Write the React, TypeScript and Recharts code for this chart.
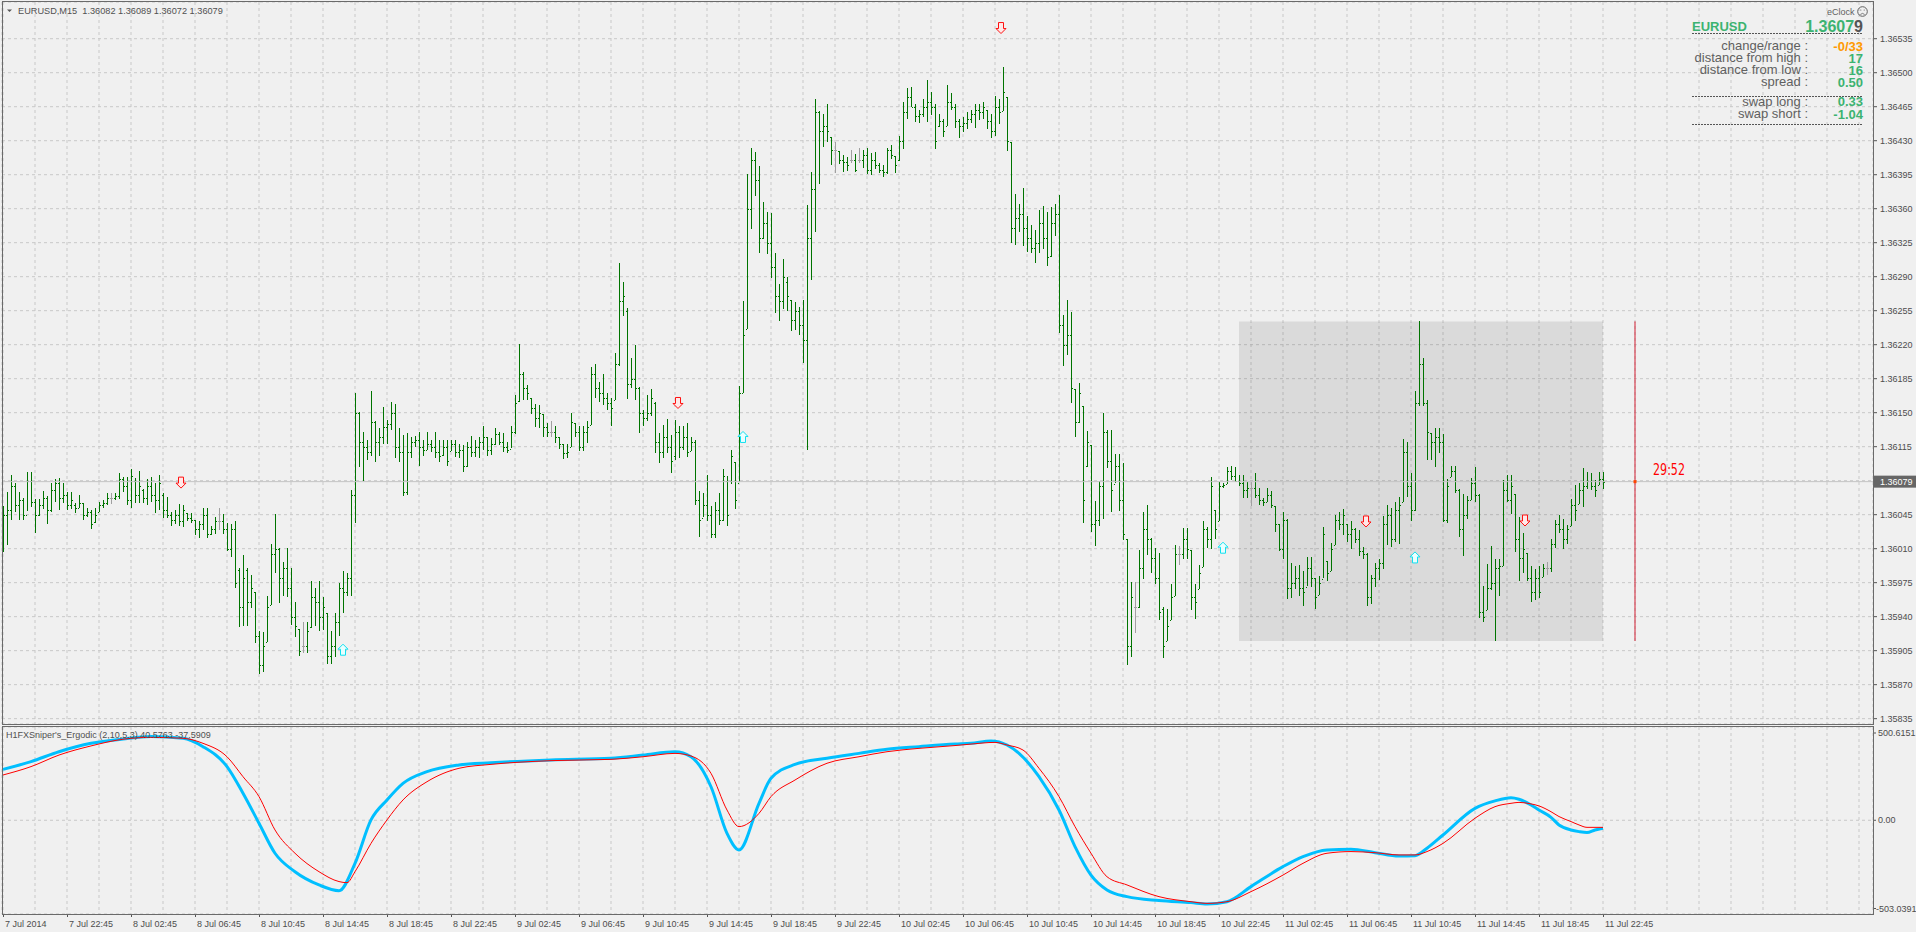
import React from "react";
import {
  ComposedChart,
  Bar,
  Line,
  Scatter,
  XAxis,
  YAxis,
  CartesianGrid,
  ReferenceLine,
  ReferenceArea,
  ReferenceDot,
} from "recharts";

// EURUSD M15, first bar 7 Jul 18:45. Prices in points above 1.36000 (1 pt = 0.00001)
// each bar: [high, low, open, close]
type Ohlc = [number, number, number, number];

const jul7: Ohlc[] = [
  [54, 7, 12, 45], [68, 13, 45, 50], [86, 40, 50, 75], [78, 48, 75, 55], [68, 39, 55, 60], [62, 39, 60, 45], [89, 49, 45, 80], [89, 53, 80, 58],
  [61, 26, 58, 45], [61, 43, 45, 55], [69, 50, 55, 62], [64, 35, 62, 50], [78, 48, 50, 70], [82, 58, 70, 78], [83, 50, 78, 62], [78, 57, 62, 65],
  [68, 49, 65, 55], [68, 50, 55, 60], [57, 47, 55, 52], [65, 52, 52, 57], [57, 39, 57, 45],
];

const jul8: Ohlc[] = [
  [52, 43, 45, 48], [50, 30, 48, 35], [52, 37, 37, 45], [58, 48, 48, 55], [60, 52, 55, 57], [67, 55, 57, 62], [67, 56, 62, 62], [67, 60, 62, 64],
  [88, 61, 64, 82], [84, 69, 82, 75], [84, 55, 75, 60], [92, 52, 60, 85], [83, 57, 80, 65], [90, 57, 65, 75], [71, 57, 70, 62], [82, 55, 62, 75],
  [84, 58, 75, 65], [78, 47, 65, 60], [86, 50, 60, 78], [67, 41, 65, 50], [63, 41, 50, 45], [48, 34, 45, 40], [50, 36, 40, 45], [56, 33, 45, 38],
  [55, 32, 38, 50], [47, 39, 47, 42], [47, 37, 42, 40], [40, 25, 40, 30], [39, 21, 30, 35], [52, 29, 35, 45], [52, 21, 45, 25], [33, 24, 25, 30],
  [43, 26, 30, 38], [52, 29, 38, 38], [46, 25, 38, 30], [36, 7, 30, 10], [35, 1, 10, 30], [38, -31, 30, -25], [-10, -71, -12, -50], [3, -70, -50, -20],
  [-10, -70, -12, -45], [-17, -51, -45, -30], [-35, -87, -35, -80], [-75, -119, -80, -110], [-76, -117, -110, -90], [-39, -86, -86, -50], [15, -48, -48, 5], [46, -15, 5, 10],
  [11, -46, 10, -20], [-4, -39, -20, -10], [11, -39, -10, -30], [-10, -69, -30, -60], [-45, -81, -60, -70], [-73, -101, -73, -95], [-66, -98, -90, -90], [-66, -98, -90, -75],
  [-23, -71, -71, -40], [-30, -69, -40, -45], [-23, -74, -45, -60], [-40, -74, -60, -50], [-56, -109, -56, -100], [-75, -109, -100, -90], [-56, -101, -90, -65], [-25, -80, -65, -30],
  [-13, -56, -30, -35], [-15, -39, -35, -20], [70, -39, -20, 65], [170, 36, 65, 150], [151, 94, 150, 120], [130, 80, 120, 115], [122, 101, 115, 110], [172, 105, 110, 140],
  [141, 99, 140, 120], [134, 105, 120, 125], [156, 118, 125, 135], [142, 117, 135, 138], [161, 132, 138, 150], [159, 103, 150, 115], [134, 99, 115, 110], [127, 64, 110, 68],
  [129, 65, 68, 110], [125, 103, 110, 120], [126, 115, 120, 122], [130, 95, 122, 115], [122, 106, 115, 112], [130, 111, 112, 118], [122, 110, 118, 115], [130, 103, 115, 110],
  [122, 99, 110, 105], [122, 106, 106, 115], [122, 95, 115, 100], [122, 111, 111, 118], [122, 105, 118, 110], [118, 104, 110, 112], [117, 89, 112, 95], [120, 94, 95, 115],
];

const jul9: Ohlc[] = [
  [126, 104, 115, 110], [122, 104, 110, 115], [125, 103, 115, 120], [136, 111, 120, 125], [125, 105, 125, 112], [124, 106, 112, 118], [134, 117, 118, 128], [130, 117, 128, 120],
  [129, 109, 120, 115], [120, 109, 115, 112], [136, 113, 113, 130], [168, 128, 130, 160], [221, 161, 162, 190], [192, 163, 190, 175], [178, 163, 175, 170], [165, 149, 165, 155],
  [159, 135, 155, 145], [158, 134, 145, 150], [149, 125, 149, 135], [139, 125, 135, 130], [141, 125, 130, 130], [136, 118, 130, 125], [125, 113, 125, 118], [118, 103, 118, 108],
  [118, 104, 108, 110], [150, 115, 115, 140], [139, 125, 139, 130], [136, 110, 130, 115], [136, 110, 115, 130], [141, 118, 130, 135], [197, 137, 137, 190], [200, 165, 190, 175],
  [182, 161, 175, 170], [190, 158, 170, 165], [170, 153, 165, 160], [165, 136, 160, 155], [211, 163, 163, 200], [304, 198, 200, 265], [285, 250, 265, 270], [258, 164, 255, 180],
  [206, 175, 180, 185], [220, 163, 185, 175], [176, 129, 175, 150], [153, 137, 150, 145], [168, 141, 145, 150], [174, 146, 150, 165], [161, 109, 160, 120], [129, 98, 120, 110],
  [137, 103, 110, 125], [144, 109, 125, 115], [127, 88, 115, 100], [142, 101, 105, 130], [136, 103, 130, 115], [136, 111, 115, 125], [139, 104, 125, 110], [125, 111, 111, 120],
  [122, 55, 120, 60], [69, 22, 60, 40], [67, 42, 42, 55], [86, 39, 55, 45], [54, 21, 45, 25], [58, 21, 25, 50], [67, 34, 50, 40], [92, 38, 40, 85],
  [85, 34, 80, 45], [112, 77, 80, 105], [99, 51, 99, 60], [177, 78, 78, 170], [265, 170, 170, 230], [396, 236, 236, 360], [423, 340, 360, 410], [418, 373, 410, 390],
  [404, 314, 390, 330], [367, 329, 330, 345], [357, 314, 345, 325], [356, 289, 325, 300], [314, 252, 300, 270], [282, 244, 270, 265], [308, 257, 265, 290], [290, 255, 285, 270],
  [266, 234, 266, 245], [264, 235, 245, 255], [259, 230, 255, 240], [266, 201, 240, 225], [364, 112, 225, 330], [398, 287, 330, 380], [473, 336, 380, 460], [461, 386, 460, 440],
  [458, 424, 440, 445], [468, 429, 445, 440], [434, 405, 434, 420], [429, 397, 420, 420], [419, 406, 419, 410], [415, 397, 410, 408], [413, 399, 408, 405], [420, 407, 410, 410],
];

const jul10: Ohlc[] = [
  [416, 397, 410, 400], [422, 407, 410, 410], [420, 401, 410, 415], [422, 395, 415, 400], [417, 394, 400, 410], [418, 400, 410, 405], [407, 397, 405, 400], [405, 393, 400, 398],
  [422, 395, 398, 420], [426, 412, 420, 415], [414, 397, 414, 405], [435, 409, 410, 430], [470, 422, 430, 460], [484, 452, 460, 475], [485, 464, 475, 465], [468, 449, 465, 455],
  [462, 449, 455, 458], [473, 454, 458, 465], [492, 449, 465, 470], [480, 456, 470, 465], [468, 422, 465, 430], [458, 445, 445, 450], [452, 433, 450, 440], [487, 445, 445, 470],
  [479, 462, 470, 465], [468, 443, 465, 450], [452, 432, 450, 445], [454, 439, 445, 448], [460, 443, 448, 452], [462, 449, 452, 458], [468, 443, 458, 462], [468, 452, 462, 460],
  [470, 453, 460, 465], [462, 442, 462, 450], [458, 433, 450, 440], [476, 435, 440, 465], [473, 447, 465, 460], [506, 461, 461, 480], [475, 419, 475, 430], [429, 325, 429, 340],
  [375, 323, 340, 350], [365, 336, 350, 355], [381, 321, 355, 340], [353, 316, 340, 330], [343, 314, 330, 320], [338, 304, 320, 325], [359, 315, 325, 345], [363, 319, 345, 330],
  [357, 301, 330, 310], [362, 311, 311, 345], [365, 332, 345, 355], [374, 232, 355, 240], [251, 199, 240, 220], [266, 209, 220, 230], [254, 160, 230, 175], [174, 125, 174, 140],
  [181, 140, 140, 170], [157, 37, 157, 60], [131, 94, 95, 120], [117, 27, 117, 35], [59, 13, 35, 40], [80, 34, 40, 75], [150, 41, 75, 130], [132, 93, 130, 100],
  [132, 48, 100, 70], [107, 77, 77, 95], [107, 48, 95, 60], [98, 19, 60, 25], [20, -110, 20, -90], [-24, -101, -90, -40], [-24, -76, -50, -50], [9, -51, -50, -10],
  [48, -21, -10, 30], [55, 4, 30, 20], [21, -15, 20, 0], [11, -26, 0, -20], [6, -63, -20, -55], [-50, -102, -52, -90], [-52, -85, -85, -70], [-26, -63, -63, -40],
  [14, -39, -39, 5], [13, -7, 5, 5], [31, -1, 5, 20], [31, -1, 20, 10], [9, -53, 9, -40], [-26, -62, -40, -45], [-7, -32, -32, -15], [38, -9, -9, 30],
  [32, 10, 30, 20], [84, 10, 20, 75], [50, 20, 50, 30], [79, 39, 39, 75], [78, 73, 75, 76], [94, 77, 77, 90], [95, 81, 90, 85], [94, 79, 85, 80],
];

const jul11: Ohlc[] = [
  [86, 75, 80, 78], [86, 62, 78, 70], [79, 63, 70, 72], [79, 54, 72, 72], [88, 62, 72, 65], [72, 54, 65, 60], [62, 54, 60, 58], [72, 58, 58, 65],
  [69, 51, 65, 55], [54, 27, 54, 35], [35, 7, 35, 10], [48, 0, 10, 40], [41, -41, 40, -30], [-5, -41, -30, -25], [-8, -32, -25, -20], [-7, -39, -20, -30],
  [-13, -49, -30, -35], [1, -29, -29, -10], [1, -30, -10, -20], [-20, -52, -20, -40], [-18, -38, -38, -25], [32, -21, -21, 25], [-3, -24, -3, -15], [16, -13, -13, 10],
  [45, 14, 14, 40], [48, 29, 40, 35], [51, 24, 35, 45], [35, 16, 35, 25], [39, 10, 25, 30], [31, 16, 30, 20], [29, 2, 20, 8], [12, 0, 8, 5],
  [6, -49, 5, -40], [-17, -47, -40, -20], [-5, -30, -20, -10], [-1, -23, -10, -5], [44, -11, -5, 35], [55, 14, 35, 45], [52, 12, 45, 20], [58, 17, 20, 50],
  [63, 15, 50, 55], [123, 58, 58, 110], [120, 63, 110, 75], [88, 39, 75, 50], [172, 48, 50, 160], [244, 157, 160, 200], [206, 157, 200, 160], [163, 101, 160, 130],
  [129, 101, 129, 120], [134, 94, 120, 125], [134, 108, 125, 120], [128, 37, 120, 40], [82, 37, 40, 75], [95, 84, 84, 90], [95, 67, 90, 70], [71, 22, 70, 30],
  [66, 2, 30, 45], [64, 40, 45, 60], [83, 60, 60, 78], [94, 58, 78, 65], [66, -62, 65, -55], [-28, -65, -55, -60], [-6, -53, -53, -30], [13, -32, -30, -25],
  [-1, -85, -25, -10], [-1, -39, -10, -8], [81, -8, -8, 70], [86, 58, 70, 60], [86, 46, 60, 75], [66, 6, 66, 20], [43, -23, 20, 0], [26, -15, 0, 10],
  [6, -23, 6, -20], [-8, -45, -20, -35], [-11, -43, -35, -20], [-8, -41, -20, -35], [-6, -19, -19, -10], [-4, -17, -10, -10], [20, -14, -10, 15], [40, 11, 15, 35],
  [45, 26, 35, 30], [41, 10, 30, 20], [34, 14, 20, 30], [61, 33, 33, 55], [76, 39, 55, 50], [78, 56, 56, 70], [93, 53, 70, 75], [89, 72, 75, 80],
  [88, 71, 80, 75], [81, 64, 75, 70], [89, 76, 76, 82], [89, 72, 82, 79],
];

// signal arrows: [bar index, price pts]
const sellArrows: [number, number][] = [[44.5, 78], [168.75, 160], [249.5, 546], [340.75, 38], [380.5, 39]];
const buyArrows: [number, number][] = [[85, -94], [185, 125], [305, 11], [353, 1]];

// H1FXSniper's Ergodic, [bar index, value]
const ergoFast: [number, number][] = [
  [0, 273], [7, 315], [14, 368], [22, 413], [30, 436], [37, 449], [45, 440], [50, 395], [56, 288], [60, 145],
  [64, -16], [68, -177], [73, -276], [79, -347], [84, -378], [88, -231], [92, 2], [96, 109], [100, 198], [106, 261],
  [114, 297], [122, 309], [137, 324], [152, 333], [160, 350], [168, 368], [172, 341], [177, 180], [181, -70], [184, -159],
  [189, 91], [192, 225], [198, 300], [206, 333], [214, 359], [221, 381], [229, 395], [238, 409], [242, 413], [247, 426],
  [251, 404], [254, 359], [259, 234], [264, 55], [268, -141], [272, -294], [276, -374], [281, -410], [289, -431], [297, -442],
  [301, -449], [306, -437], [312, -356], [320, -249], [325, -195], [331, -159], [337, -156], [343, -174], [349, -192], [353, -190],
  [356, -150], [360, -79], [368, 64], [373, 104], [377, 121], [379, 113], [382, 82], [384, 55], [387, 16], [389, -25],
  [392, -52], [394, -61], [396, -66], [398, -52], [400, -43],
];
const ergoSlow: [number, number][] = [
  [0, 243], [7, 288], [14, 350], [22, 399], [30, 435], [37, 445], [45, 440], [50, 413], [56, 341], [60, 234],
  [64, 127], [68, -52], [73, -177], [79, -276], [84, -329], [86, -335], [88, -276], [92, -124], [96, 2], [100, 109],
  [106, 207], [114, 279], [122, 300], [137, 320], [152, 327], [160, 341], [168, 359], [172, 345], [177, 252], [181, 55],
  [184, -34], [189, 37], [192, 127], [198, 216], [206, 306], [214, 341], [221, 368], [229, 386], [238, 401], [242, 409],
  [248, 418], [251, 404], [255, 377], [259, 279], [264, 127], [268, -34], [272, -177], [276, -303], [281, -347], [289, -410],
  [297, -437], [301, -446], [306, -437], [312, -383], [320, -294], [325, -231], [331, -177], [337, -168], [343, -174], [349, -186],
  [353, -186], [356, -168], [360, -124], [368, 11], [373, 73], [377, 91], [379, 96], [382, 88], [384, 77], [387, 46],
  [389, 20], [392, -7], [394, -25], [396, -38], [400, -38],
];

const timeLabels = [
  "7 Jul 2014", "7 Jul 22:45", "8 Jul 02:45", "8 Jul 06:45", "8 Jul 10:45", "8 Jul 14:45", "8 Jul 18:45",
  "8 Jul 22:45", "9 Jul 02:45", "9 Jul 06:45", "9 Jul 10:45", "9 Jul 14:45", "9 Jul 18:45", "9 Jul 22:45",
  "10 Jul 02:45", "10 Jul 06:45", "10 Jul 10:45", "10 Jul 14:45", "10 Jul 18:45", "10 Jul 22:45",
  "11 Jul 02:45", "11 Jul 06:45", "11 Jul 10:45", "11 Jul 14:45", "11 Jul 18:45", "11 Jul 22:45",
];
const priceTicks = [535, 500, 465, 430, 395, 360, 325, 290, 255, 220, 185, 150, 115, 80, 45, 10, -25, -60, -95, -130, -165];
const ergoTicks = [500.6151, 0, -503.0391];
const ergoTickLabels = ["500.6151", "0.00", "-503.0391"];

const infoLabels = ["change/range :", "distance from high :", "distance from low :", "spread :"];
const infoValues = ["-0/33", "17", "16", "0.50"];
const swapLabels = ["swap long :", "swap short :"];
const swapValues = ["0.33", "-1.04"];

const dayBox = { from: 309, to: 400, low: -85, high: 244 };
const lastClose = 79;
const timerBar = 408;

const FONT = "'Liberation Sans', Arial, sans-serif";
const X_DOMAIN: [number, number] = [-0.25, 467.5];
const gridTicks = Array.from({ length: 59 }, (_, k) => k * 8);
const AXIS_X = 1873;
const GREEN = "#3CB371";

const bars = [...jul7, ...jul8, ...jul9, ...jul10, ...jul11].map(([h, l, o, c], i) => ({
  i, range: [l, h], h, l, o, c,
}));
const sellData = sellArrows.map(([i, p]) => ({ i, p }));
const buyData = buyArrows.map(([i, p]) => ({ i, p }));
const fastData = ergoFast.map(([i, v]) => ({ i, v }));
const slowData = ergoSlow.map(([i, v]) => ({ i, v }));

const fmtPrice = (p: number) => (1.36 + p / 100000).toFixed(5);

function OhlcShape(props: any) {
  const { x, y, width, height, payload } = props;
  if (x == null || y == null || !payload) return null;
  const cx = Math.round(x + width / 2);
  const top = Math.min(y, y + height);
  const len = Math.abs(height);
  const span = payload.h - payload.l;
  const yOf = (v: number) => top + (span === 0 ? 0 : ((payload.h - v) / span) * len);
  const color = payload.o === payload.c ? "#A0A0A0" : "#007400";
  return (
    <g shapeRendering="crispEdges">
      <rect x={cx} y={Math.round(top)} width={1} height={Math.max(1, Math.round(len))} fill={color} />
      <rect x={cx - 1} y={Math.round(yOf(payload.o))} width={1} height={1} fill={color} />
      <rect x={cx + 1} y={Math.round(yOf(payload.c))} width={1} height={1} fill={color} />
    </g>
  );
}

function SellArrow(props: any) {
  const { cx, cy } = props;
  if (cx == null) return null;
  const d = `M${cx - 2.5},${cy - 5.5} h5 v6 h2.5 l-5,5 l-5,-5 h2.5 z`;
  return <path d={d} fill="#FFE8E8" stroke="#FF1010" strokeWidth={1} />;
}

function BuyArrow(props: any) {
  const { cx, cy } = props;
  if (cx == null) return null;
  const d = `M${cx - 2.5},${cy + 5.5} h5 v-6 h2.5 l-5,-5 l-5,5 h2.5 z`;
  return <path d={d} fill="#E8FFFF" stroke="#10E0F0" strokeWidth={1} />;
}

function PriceTick(props: any) {
  const { y, payload } = props;
  if (payload.value === 80) return <g />;
  return (
    <g>
      <line x1={AXIS_X} x2={AXIS_X + 4} y1={y} y2={y} stroke="#555" />
      <text x={AXIS_X + 7} y={y} dy="0.35em" fontSize={9} fontFamily={FONT} fill="#4D4D4D">
        {fmtPrice(payload.value)}
      </text>
    </g>
  );
}

function PriceTag(props: any) {
  const vb = props.viewBox || {};
  const y = vb.y ?? 0;
  return (
    <g>
      <rect x={AXIS_X + 1} y={y - 6} width={43} height={12} fill="#666666" />
      <text x={AXIS_X + 7} y={y} dy="0.35em" fontSize={9} fontFamily={FONT} fill="#FFFFFF">
        {fmtPrice(lastClose)}
      </text>
    </g>
  );
}

function ErgoTick(props: any) {
  const { y, payload } = props;
  const k = ergoTicks.indexOf(payload.value);
  const dy = k === 0 ? 6 : k === 2 ? -5.5 : 0;
  return (
    <g>
      <line x1={AXIS_X} x2={AXIS_X + 3} y1={y + dy} y2={y + dy} stroke="#555" />
      <text x={k === 2 ? AXIS_X + 3 : AXIS_X + 5} y={y + dy} dy="0.35em" fontSize={9} fontFamily={FONT} fill="#4D4D4D">
        {ergoTickLabels[k]}
      </text>
    </g>
  );
}

function TimeTick(props: any) {
  const { x, payload } = props;
  const v = payload.value;
  if (v % 16 !== 0 || v > 400) return <g />;
  return (
    <g>
      <line x1={x + 0.5} x2={x + 0.5} y1={189} y2={192} stroke="#555" />
      <text x={x + 2} y={202} fontSize={9} fontFamily={FONT} fill="#4D4D4D">
        {timeLabels[v / 16]}
      </text>
    </g>
  );
}

function TimerDot(props: any) {
  const { cx, cy } = props;
  return <rect x={cx - 1.5} y={cy - 1.5} width={3} height={3} fill="#FF4500" />;
}

function TimerText(props: any) {
  const { cx, cy } = props;
  return (
    <text x={cx} y={cy} fontSize={15} fill="#FF0000" textLength={32} lengthAdjust="spacingAndGlyphs"
      fontFamily="'Liberation Sans Narrow', 'Arial Narrow', 'DejaVu Sans Condensed', sans-serif">
      29:52
    </text>
  );
}

export default function App() {
  return (
    <div style={{ position: "absolute", left: 0, top: 0, width: 1916, height: 932, background: "#F0F0F0", overflow: "hidden", fontFamily: FONT }}>
      <div style={{ position: "absolute", left: 0, top: 0 }}>
        <ComposedChart width={1916} height={726} data={bars} margin={{ top: 2, right: 0, bottom: 2, left: 2 }}>
          <CartesianGrid stroke="#C8C8C8" strokeDasharray="3 3" />
          <XAxis type="number" dataKey="i" domain={X_DOMAIN} ticks={gridTicks} interval={0} allowDataOverflow hide />
          <YAxis type="number" orientation="right" width={43} domain={[-170.5, 572.8]} ticks={priceTicks} interval={0}
            allowDataOverflow tick={PriceTick} tickLine={false} axisLine={false} />
          <ReferenceArea x1={dayBox.from} x2={dayBox.to} y1={dayBox.low} y2={dayBox.high} fill="#000000" fillOpacity={0.09} stroke="none" />
          <ReferenceLine y={lastClose} stroke="#C4C4C4" label={<PriceTag />} />
          <Bar dataKey="range" shape={OhlcShape} barSize={1} isAnimationActive={false} />
          <Scatter data={sellData} dataKey="p" shape={SellArrow} isAnimationActive={false} />
          <Scatter data={buyData} dataKey="p" shape={BuyArrow} isAnimationActive={false} />
          <ReferenceLine segment={[{ x: timerBar, y: dayBox.low }, { x: timerBar, y: dayBox.high }]} stroke="#D21E32" />
          <ReferenceDot x={timerBar} y={lastClose} r={2} shape={TimerDot} />
          <ReferenceDot x={412.5} y={86} r={1} shape={TimerText} />
        </ComposedChart>
      </div>

      <div style={{ position: "absolute", left: 0, top: 725 }}>
        <ComposedChart width={1916} height={207} margin={{ top: 2, right: 0, bottom: 0, left: 2 }}>
          <CartesianGrid stroke="#C8C8C8" strokeDasharray="3 3" />
          <XAxis type="number" dataKey="i" domain={X_DOMAIN} ticks={gridTicks} interval={0} allowDataOverflow height={18}
            tick={TimeTick} tickLine={false} axisLine={false} />
          <YAxis type="number" orientation="right" width={43} domain={[-503.0391, 500.6151]} ticks={ergoTicks} interval={0}
            allowDataOverflow tick={ErgoTick} tickLine={false} axisLine={false} />
          <Line data={fastData} dataKey="v" type="monotone" stroke="#00BFFF" strokeWidth={3} dot={false} isAnimationActive={false} />
          <Line data={slowData} dataKey="v" type="monotone" stroke="#FF0000" strokeWidth={1} dot={false} isAnimationActive={false} />
        </ComposedChart>
      </div>

      <svg width={1916} height={932} style={{ position: "absolute", left: 0, top: 0, pointerEvents: "none" }} fontFamily={FONT}>
        {/* panel frames */}
        <rect x={2.5} y={1.5} width={1871} height={723} fill="none" stroke="#6A6A6A" />
        <rect x={2.5} y={726.5} width={1871} height={188} fill="none" stroke="#6A6A6A" />

        {/* header */}
        <path d="M7,9.5 L12,9.5 L9.5,12 Z" fill="#555" />
        <text x={18} y={14} fontSize={9.2} fill="#505050" style={{ whiteSpace: "pre" }}>
          EURUSD,M15  1.36082 1.36089 1.36072 1.36079
        </text>
        <text x={6} y={738} fontSize={9} fill="#505050" style={{ whiteSpace: "pre" }}>
          H1FXSniper's_Ergodic (2,10,5,3) 40.5763 -37.5909
        </text>

        {/* eClock panel */}
        <text x={1827} y={15} fontSize={9} fill="#606060">eClock</text>
        <circle cx={1862.5} cy={11.5} r={4.8} fill="none" stroke="#606060" />
        <circle cx={1860.8} cy={10} r={0.6} fill="#606060" />
        <circle cx={1864.2} cy={10} r={0.6} fill="#606060" />
        <path d="M1860.3,14.5 Q1862.5,12.3 1864.7,14.5" fill="none" stroke="#606060" strokeWidth={0.8} />
        <text x={1692} y={30.5} fontSize={13} fontWeight="bold" fill={GREEN}>EURUSD</text>
        <text x={1863} y={32.3} fontSize={16} fontWeight="bold" textAnchor="end">
          <tspan fill={GREEN}>1.3607</tspan>
          <tspan fill="#555555">9</tspan>
        </text>
        <line x1={1692} x2={1863} y1={33.5} y2={33.5} stroke="#555" strokeDasharray="2 1" />
        {infoLabels.map((t, k) => (
          <text key={t} x={1808} y={50 + k * 12} fontSize={13} fill="#606060" textAnchor="end">{t}</text>
        ))}
        {infoValues.map((t, k) => (
          <text key={t + k} x={1863} y={50.5 + k * 12} fontSize={13} fontWeight="bold" fill={k === 0 ? "#FF9900" : GREEN} textAnchor="end">{t}</text>
        ))}
        <line x1={1692} x2={1863} y1={96.5} y2={96.5} stroke="#555" strokeDasharray="2 1" />
        {swapLabels.map((t, k) => (
          <text key={t} x={1808} y={105.5 + k * 12.5} fontSize={13} fill="#606060" textAnchor="end">{t}</text>
        ))}
        {swapValues.map((t, k) => (
          <text key={t} x={1863} y={106 + k * 12.5} fontSize={13} fontWeight="bold" fill={GREEN} textAnchor="end">{t}</text>
        ))}
        <line x1={1692} x2={1863} y1={124.5} y2={124.5} stroke="#555" strokeDasharray="2 1" />
      </svg>
    </div>
  );
}
